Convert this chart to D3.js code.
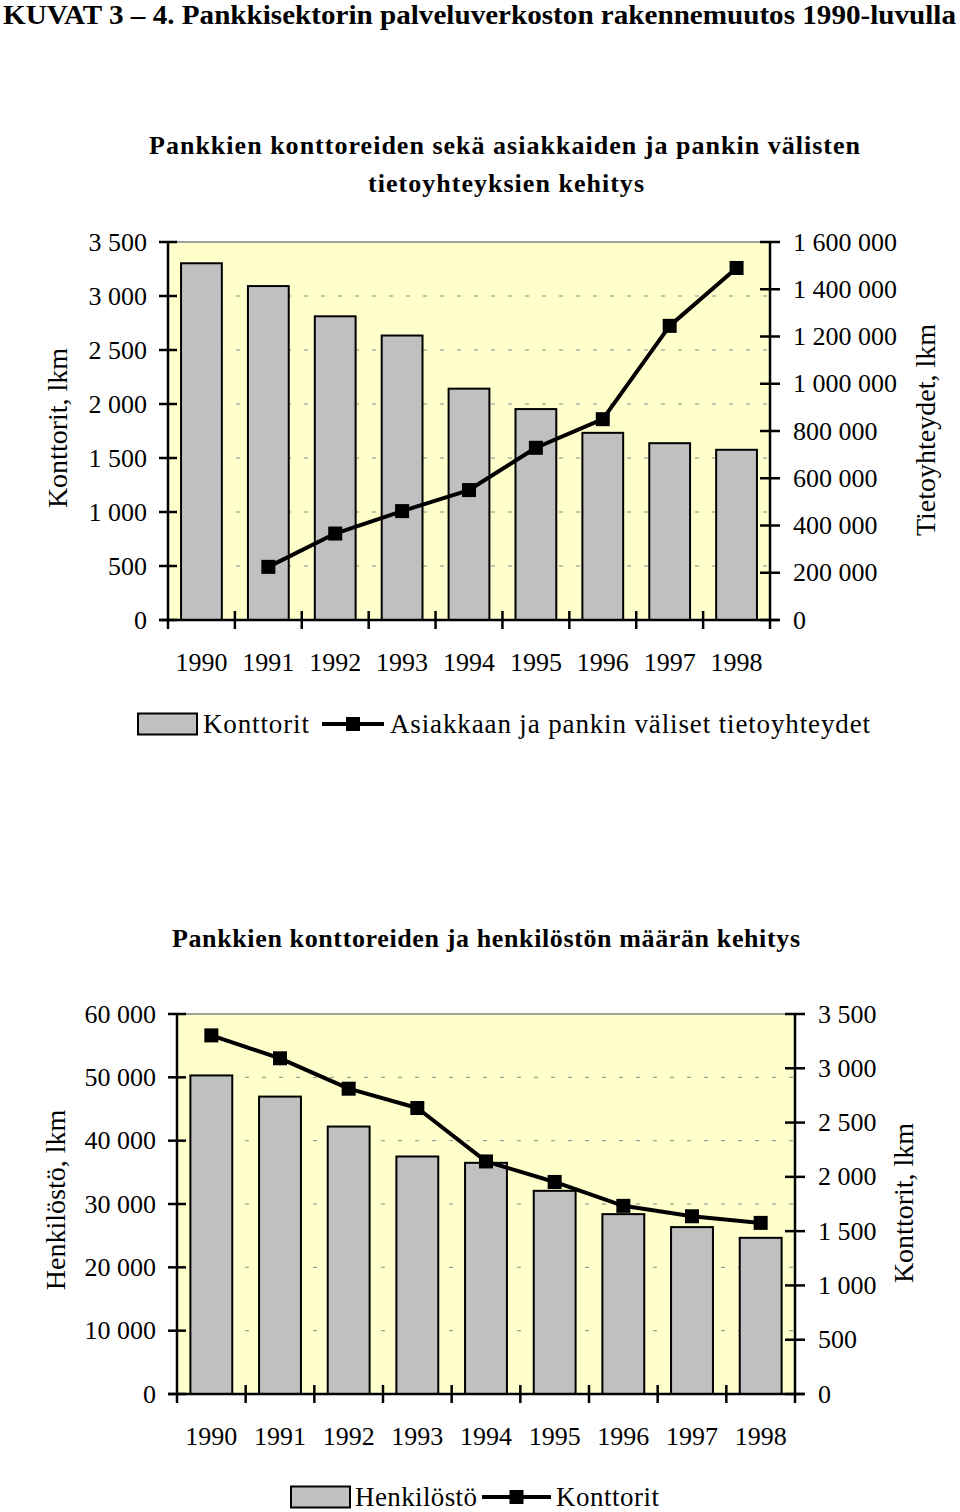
<!DOCTYPE html>
<html><head><meta charset="utf-8">
<script src="https://cdn.jsdelivr.net/npm/d3@7"></script>
<style>
html,body{margin:0;padding:0;background:#fff;}
text{font-family:"Liberation Serif","Times New Roman",serif;fill:#000;}
</style></head>
<body>
<svg id="c" width="960" height="1512"></svg>
<script>
const years = ["1990","1991","1992","1993","1994","1995","1996","1997","1998"];
const konttorit = [3303, 3092, 2812, 2634, 2142, 1953, 1733, 1637, 1576];
const tietoyhteydet = [null, 225000, 366000, 461000, 550000, 729000, 850000, 1245000, 1490000];
const henkilosto = [50300, 46960, 42230, 37500, 36500, 32080, 28400, 26350, 24660];
const konttoriTicks = [0,500,1000,1500,2000,2500,3000,3500];
const tietoTicks = [0,200000,400000,600000,800000,1000000,1200000,1400000,1600000];
const henkTicks = [0,10000,20000,30000,40000,50000,60000];

const fmt = v => d3.format(",")(v).replace(/,/g, " ");
const svg = d3.select("#c");

svg.append("text").attr("x",3).attr("y",24)
  .attr("font-size",28).attr("font-weight","bold")
  .attr("textLength",953).attr("lengthAdjust","spacingAndGlyphs")
  .text("KUVAT 3 – 4. Pankkisektorin palveluverkoston rakennemuutos 1990-luvulla");

function chart(cfg){
  const g = svg.append("g");
  const {L,R,T,B} = cfg;
  const x = d3.scaleBand().domain(years).range([L,R]).paddingInner(0).paddingOuter(0);
  const yL = d3.scaleLinear().domain([0,cfg.leftMax]).range([B,T]);
  const yR = d3.scaleLinear().domain([0,cfg.rightMax]).range([B,T]);
  g.append("rect").attr("x",L).attr("y",T).attr("width",R-L).attr("height",B-T).attr("fill","#FFFFCC");
  g.selectAll(".grid").data(cfg.leftTicks.filter(v=>v>0 && v<cfg.leftMax)).enter().append("line")
    .attr("x1",L).attr("x2",R).attr("y1",d=>yL(d)).attr("y2",d=>yL(d))
    .attr("stroke","#8a8a8a").attr("stroke-width",1).attr("stroke-dasharray","4,13");
  g.append("line").attr("x1",L).attr("x2",R).attr("y1",T).attr("y2",T).attr("stroke","#808080").attr("stroke-width",1.5);
  const bw = x.bandwidth()*0.61;
  const bars = cfg.bars;
  g.selectAll(".bar").data(years).enter().append("rect")
    .attr("x",d=>x(d)+x.bandwidth()/2-bw/2).attr("width",bw)
    .attr("y",(d,i)=>yL(bars[i])).attr("height",(d,i)=>B-yL(bars[i]))
    .attr("fill","#C0C0C0").attr("stroke","#000").attr("stroke-width",2);
  const ly = cfg.lineScale==="R" ? yR : yL;
  const pts = years.map((d,i)=>({d, v:cfg.line[i]})).filter(p=>p.v!=null);
  g.append("path").datum(pts)
    .attr("d",d3.line().x(p=>x(p.d)+x.bandwidth()/2).y(p=>ly(p.v)))
    .attr("fill","none").attr("stroke","#000").attr("stroke-width",4).attr("stroke-linejoin","round");
  g.selectAll(".mk").data(pts).enter().append("rect")
    .attr("x",p=>x(p.d)+x.bandwidth()/2-7).attr("y",p=>ly(p.v)-7)
    .attr("width",14).attr("height",14).attr("fill","#000");
  const ax = g.append("g").attr("stroke","#000").attr("stroke-width",2.5);
  ax.append("line").attr("x1",L).attr("x2",L).attr("y1",T).attr("y2",B+9);
  ax.append("line").attr("x1",R).attr("x2",R).attr("y1",T).attr("y2",B+9);
  ax.append("line").attr("x1",L-9).attr("x2",R+9).attr("y1",B).attr("y2",B);
  cfg.leftTicks.forEach(v=>ax.append("line").attr("x1",L-9).attr("x2",L+9).attr("y1",yL(v)).attr("y2",yL(v)));
  cfg.rightTicks.forEach(v=>ax.append("line").attr("x1",R-10).attr("x2",R+10).attr("y1",yR(v)).attr("y2",yR(v)));
  years.slice(1).forEach(d=>ax.append("line").attr("x1",x(d)).attr("x2",x(d)).attr("y1",B-9).attr("y2",B+9));
  g.selectAll(".tl").data(cfg.leftTicks).enter().append("text")
    .attr("x",L-21).attr("y",d=>yL(d)).attr("text-anchor","end").attr("dominant-baseline","central")
    .attr("font-size",26).text(fmt);
  g.selectAll(".tr").data(cfg.rightTicks).enter().append("text")
    .attr("x",R+23).attr("y",d=>yR(d)).attr("text-anchor","start").attr("dominant-baseline","central")
    .attr("font-size",26).text(fmt);
  g.selectAll(".xl").data(years).enter().append("text")
    .attr("x",d=>x(d)+x.bandwidth()/2).attr("y",B+42).attr("text-anchor","middle").attr("dominant-baseline","central")
    .attr("font-size",26).text(d=>d);
  g.append("text").attr("transform",`translate(${cfg.ltx},${cfg.lty}) rotate(-90)`)
    .attr("text-anchor","middle").attr("dominant-baseline","central").attr("font-size",28).text(cfg.leftTitle);
  g.append("text").attr("transform",`translate(${cfg.rtx},${cfg.rty}) rotate(-90)`)
    .attr("text-anchor","middle").attr("dominant-baseline","central").attr("font-size",28).text(cfg.rightTitle);
  cfg.title.forEach(t=>{
    g.append("text").attr("x",t.x).attr("y",t.y).attr("font-size",26).attr("font-weight","bold")
      .attr("dominant-baseline","central").attr("textLength",t.w).attr("lengthAdjust","spacing").text(t.s);
  });
  const lg = cfg.legend;
  g.append("rect").attr("x",lg.rx).attr("y",lg.y-10.5).attr("width",59).attr("height",21)
    .attr("fill","#C0C0C0").attr("stroke","#000").attr("stroke-width",2);
  g.append("text").attr("x",lg.t1x).attr("y",lg.y).attr("dominant-baseline","central").attr("font-size",27)
    .attr("textLength",lg.t1w).attr("lengthAdjust","spacing").text(lg.t1);
  g.append("line").attr("x1",lg.lx1).attr("x2",lg.lx2).attr("y1",lg.y).attr("y2",lg.y).attr("stroke","#000").attr("stroke-width",4);
  g.append("rect").attr("x",(lg.lx1+lg.lx2)/2-7).attr("y",lg.y-7).attr("width",14).attr("height",14).attr("fill","#000");
  g.append("text").attr("x",lg.t2x).attr("y",lg.y).attr("dominant-baseline","central").attr("font-size",27)
    .attr("textLength",lg.t2w).attr("lengthAdjust","spacing").text(lg.t2);
}

chart({L:168,R:770,T:242,B:620,leftMax:3500,rightMax:1600000,
  leftTicks:konttoriTicks,rightTicks:tietoTicks,bars:konttorit,line:tietoyhteydet,lineScale:"R",
  leftTitle:"Konttorit, lkm",rightTitle:"Tietoyhteydet, lkm",ltx:57,lty:428,rtx:925,rty:430,
  title:[{s:"Pankkien konttoreiden sekä asiakkaiden ja pankin välisten",x:149,y:145,w:711},
         {s:"tietoyhteyksien kehitys",x:368,y:183,w:276}],
  legend:{y:724,rx:138,t1x:203,t1w:106,t1:"Konttorit",lx1:322,lx2:384,t2x:390,t2w:480,t2:"Asiakkaan ja pankin väliset tietoyhteydet"}
});

chart({L:177,R:795,T:1014,B:1394,leftMax:60000,rightMax:3500,
  leftTicks:henkTicks,rightTicks:konttoriTicks,bars:henkilosto,line:konttorit,lineScale:"R",
  leftTitle:"Henkilöstö, lkm",rightTitle:"Konttorit, lkm",ltx:55,lty:1200,rtx:903,rty:1203,
  title:[{s:"Pankkien konttoreiden ja henkilöstön määrän kehitys",x:172,y:938,w:628}],
  legend:{y:1497,rx:291,t1x:355,t1w:122,t1:"Henkilöstö",lx1:482,lx2:551,t2x:556,t2w:103,t2:"Konttorit"}
});
</script>
</body></html>
